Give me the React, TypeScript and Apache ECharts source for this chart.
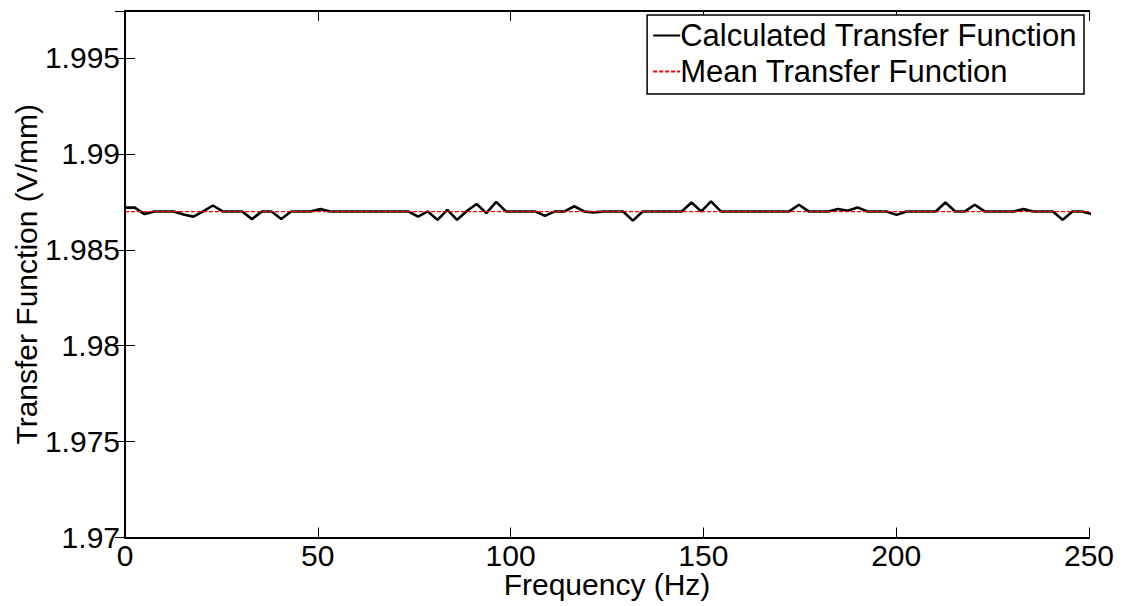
import React, { useEffect, useRef } from "react";
import * as echarts from "echarts";

// Spacing of the spectral lines (Hz); the first line sits at 0 Hz.
const FREQ_STEP_HZ = 2.533;

// Calculated transfer function (V/mm) at each spectral line.
const TRANSFER_FN = [
  1.9872, 1.9872, 1.98686, 1.987, 1.987, 1.987, 1.98684, 1.98673, 1.987, 1.98731,
  1.987, 1.987, 1.987, 1.9866, 1.987, 1.987, 1.98661, 1.987, 1.987, 1.987,
  1.98712, 1.987, 1.987, 1.987, 1.987, 1.987, 1.987, 1.987, 1.987, 1.987,
  1.98673, 1.987, 1.98656, 1.98708, 1.98656, 1.98702, 1.98739, 1.98691, 1.9875, 1.987,
  1.987, 1.987, 1.987, 1.98677, 1.987, 1.987, 1.98727, 1.987, 1.98695, 1.987,
  1.987, 1.987, 1.98652, 1.987, 1.987, 1.987, 1.987, 1.987, 1.98747, 1.987,
  1.98752, 1.987, 1.987, 1.987, 1.987, 1.987, 1.987, 1.987, 1.987, 1.98735,
  1.987, 1.987, 1.987, 1.98713, 1.98704, 1.98721, 1.987, 1.987, 1.987, 1.98682,
  1.987, 1.987, 1.987, 1.987, 1.98747, 1.987, 1.987, 1.98735, 1.987, 1.987,
  1.987, 1.987, 1.98712, 1.987, 1.987, 1.987, 1.98656, 1.987, 1.987, 1.98686,
];

// Mean of the transfer function over the band.
const MEAN_TRANSFER_FN = 1.98699;

const X_TICKS = [0, 50, 100, 150, 200, 250];
const Y_TICKS = [1.97, 1.975, 1.98, 1.985, 1.99, 1.995];
const Y_MAX = 1.99745;

const SERIES_NAMES = ["Calculated Transfer Function", "Mean Transfer Function"];

export default function App() {
  const ref = useRef<HTMLDivElement>(null);

  useEffect(() => {
    document.body.style.margin = "0";
    const chart = echarts.init(ref.current!, null, { renderer: "svg" });
    const font = "'Liberation Sans', Arial, Helvetica, sans-serif";
    const fs = 30;
    const lh = 26;

    const freq = TRANSFER_FN.map((_, i) => +(i * FREQ_STEP_HZ).toFixed(3));
    const calc = TRANSFER_FN.map((v, i) => [freq[i], v]);
    const mean = [
      [X_TICKS[0], MEAN_TRANSFER_FN],
      [X_TICKS[X_TICKS.length - 1], MEAN_TRANSFER_FN],
    ];

    const xMin = X_TICKS[0];
    const xMax = X_TICKS[X_TICKS.length - 1];
    const xStep = X_TICKS[1] - X_TICKS[0];
    const yMin = Y_TICKS[0];
    const yStep = +(Y_TICKS[1] - Y_TICKS[0]).toFixed(6);

    const yLabel = (v: number) =>
      Y_TICKS.some((t) => Math.abs(t - v) < 1e-9) ? String(parseFloat(v.toFixed(3))) : "";

    const axisLine = { show: true, lineStyle: { color: "#000", width: 2 } };
    const axisTick = { show: true, inside: true, length: 10, lineStyle: { color: "#000", width: 1 } };
    const text = { fontSize: fs, lineHeight: lh, color: "#000", fontFamily: font };

    chart.setOption({
      animation: false,
      backgroundColor: "#fff",
      grid: {
        left: 125,
        right: 34,
        top: 11,
        bottom: 68.5,
        containLabel: false,
        outerBoundsMode: "none",
      },
      xAxis: [
        {
          type: "value",
          min: xMin,
          max: xMax,
          interval: xStep,
          name: "Frequency (Hz)",
          nameLocation: "middle",
          nameGap: 34,
          nameMoveOverlap: false,
          nameTextStyle: text,
          axisLine,
          axisTick,
          splitLine: { show: false },
          axisLabel: { ...text, margin: 5 },
        },
        {
          type: "value",
          position: "top",
          min: xMin,
          max: xMax,
          interval: xStep,
          axisLine,
          axisTick,
          splitLine: { show: false },
          axisLabel: { show: false },
        },
      ],
      yAxis: [
        {
          type: "value",
          min: yMin,
          max: Y_MAX,
          interval: yStep,
          name: "Transfer Function (V/mm)",
          nameLocation: "middle",
          nameGap: 86,
          nameMoveOverlap: false,
          nameTextStyle: text,
          axisLine,
          axisTick,
          splitLine: { show: false },
          axisLabel: {
            ...text,
            margin: 5,
            showMaxLabel: false,
            formatter: yLabel,
          },
        },
        {
          type: "value",
          position: "right",
          min: yMin,
          max: Y_MAX,
          interval: yStep,
          axisLine,
          axisTick,
          splitLine: { show: false },
          axisLabel: { show: false },
        },
      ],
      legend: {
        orient: "vertical",
        right: 39,
        top: 15,
        align: "left",
        selectedMode: false,
        backgroundColor: "#fff",
        borderColor: "#000",
        borderWidth: 1.5,
        borderRadius: 0,
        padding: [5, 7, 7, 5],
        itemWidth: 27,
        itemHeight: 14,
        itemGap: 5,
        itemStyle: { opacity: 0 },
        textStyle: { fontSize: 31, color: "#000", fontFamily: font, padding: [0, 0, 0, -5] },
        data: SERIES_NAMES.map((name) => ({ name, itemStyle: { opacity: 0 } })),
      },
      series: [
        {
          name: SERIES_NAMES[0],
          type: "line",
          data: calc,
          symbol: "none",
          showSymbol: false,
          clip: true,
          lineStyle: { color: "#000", width: 2.6 },
          itemStyle: { color: "#000" },
          z: 2,
        },
        {
          name: SERIES_NAMES[1],
          type: "line",
          data: mean,
          symbol: "none",
          showSymbol: false,
          lineStyle: { color: "#ff0000", width: 1.2, type: [4, 2] },
          itemStyle: { color: "#ff0000" },
          z: 3,
        },
      ],
    });

    return () => chart.dispose();
  }, []);

  return (
    <div
      ref={ref}
      style={{ position: "fixed", left: 0, top: 0, width: 1123, height: 606, background: "#fff" }}
    />
  );
}
